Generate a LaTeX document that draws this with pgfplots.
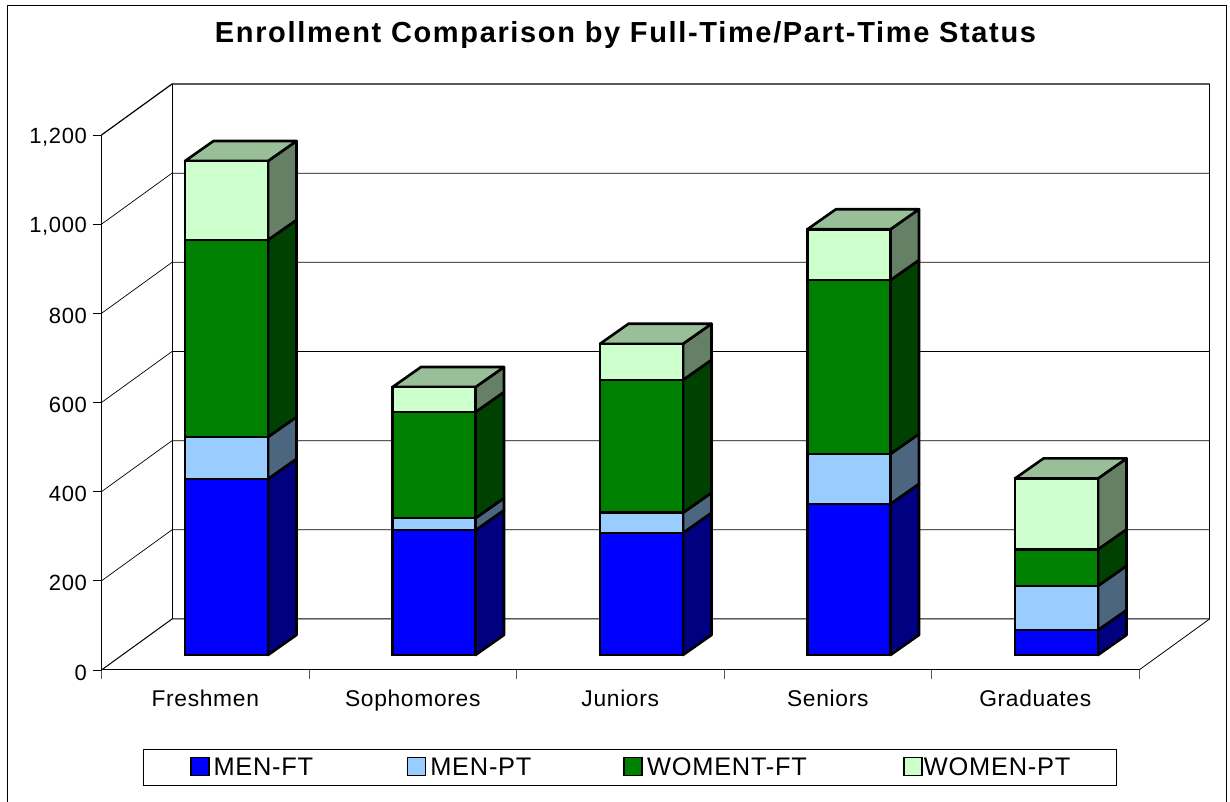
\documentclass[border=0pt]{standalone}
\usepackage{fontspec}
\setmainfont[LetterSpace=3]{Liberation Sans}
\newfontfamily\titlefont[LetterSpace=5.7]{Liberation Sans}
\usepackage{pgfplots}
\pgfplotsset{compat=1.18}
\definecolor{mfT}{HTML}{0000FF}\definecolor{mfS}{HTML}{000080}
\definecolor{mpT}{HTML}{99CCFF}\definecolor{mpS}{HTML}{4D6680}
\definecolor{wfT}{HTML}{008000}\definecolor{wfS}{HTML}{004000}
\definecolor{wpT}{HTML}{CCFFCC}\definecolor{wpS}{HTML}{668066}\definecolor{wpU}{HTML}{99BF99}
% 1 px of the reference = 1 pt here
\pgfplotsset{
  base axis/.style={
    scale only axis, width=1108pt, height=585.5pt,
    anchor=south west, at={(101.5pt,132pt)}, clip=false,
  },
  bars axis/.style={
    base axis, hide axis,
    xmin=-0.6024, xmax=4.7374, ymin=-33.65, ymax=1279.65,
  },
}
% side face and lid of a stacked column, in value units
\newcommand{\sideface}[5]{%
  \pgfmathsetmacro{\xa}{#1+0.2}\pgfmathsetmacro{\xb}{#1+0.2+0.1373}%
  \pgfmathsetmacro{\ya}{#2}\pgfmathsetmacro{\yb}{#3}%
  \pgfmathsetmacro{\yc}{#2+44.9}\pgfmathsetmacro{\yd}{#3+44.9}%
  \addplot[fill=#4,draw=black,line width=2.6pt,line join=round,forget plot]
    coordinates {(\xa,\ya) (\xa,\yb) (\xb,\yd) (\xb,\yc)} -- cycle;%
}
\newcommand{\lidface}[3]{%
  \pgfmathsetmacro{\xa}{#1-0.2}\pgfmathsetmacro{\xb}{#1+0.2}%
  \pgfmathsetmacro{\xc}{#1-0.2+0.1373}\pgfmathsetmacro{\xd}{#1+0.2+0.1373}%
  \pgfmathsetmacro{\ya}{#2}\pgfmathsetmacro{\yb}{#2+44.9}%
  \addplot[fill=#3,draw=black,line width=2.6pt,line join=round,forget plot]
    coordinates {(\xa,\ya) (\xc,\yb) (\xd,\yb) (\xb,\ya)} -- cycle;%
}
\newcommand{\stacksides}[5]{%
  \pgfmathsetmacro{\ca}{#2}\pgfmathsetmacro{\cb}{#2+#3}%
  \pgfmathsetmacro{\cc}{#2+#3+#4}\pgfmathsetmacro{\cd}{#2+#3+#4+#5}%
  \edef\lista{\ca}\edef\listb{\cb}\edef\listc{\cc}\edef\listd{\cd}%
  \sideface{#1}{0}{\lista}{mfS}{}%
  \sideface{#1}{\lista}{\listb}{mpS}{}%
  \sideface{#1}{\listb}{\listc}{wfS}{}%
  \sideface{#1}{\listc}{\listd}{wpS}{}%
  \lidface{#1}{\listd}{wpU}%
}
\pgfplotstableread{
cat menft menpt womft wompt
0   395   94    442   177
1   280   27    238   56
2   274   45    298   81
3   339   112   390   114
4   56    99    82    159
}\enroll
\begin{document}
\begin{tikzpicture}[x=1pt,y=1pt]
\path[use as bounding box] (0,0) rectangle (1230,802);
\draw[line width=1pt] (7.5,0) -- (7.5,796) -- (1226,796) -- (1226,0);
% walls, floor, ticks
\begin{axis}[base axis,
  xmin=0, xmax=5.3398, ymin=0, ymax=1313.3,
  axis line style={draw=none},
  ytick={0,200,400,600,800,1000,1200},
  xtick={0.5,1.5,2.5,3.5,4.5},
  xticklabels={Freshmen,Sophomores,Juniors,Seniors,Graduates},
  minor xtick={0,1,2,3,4,5},
  xtick pos=bottom, ytick pos=left,
  tick align=outside,
  major tick length=9pt, minor tick length=9pt,
  every major x tick/.append style={draw=none},
  every minor x tick/.append style={gray!70!black,line width=1pt},
  every major y tick/.append style={black,line width=0.8pt},
  /pgf/number format/assume math mode=true,
  /pgf/number format/1000 sep={,},
  yticklabel style={font=\fontsize{22}{26}\selectfont,xshift=-2pt,yshift=-2.5pt},
  xticklabel style={font=\fontsize{22.8}{26}\selectfont,yshift=-7pt},
  title={\fontsize{29}{34}\titlefont\bfseries Enrollment Comparison by Full-Time/Part-Time Status},
  title style={at={(axis description cs:0.4729,1.0743)},anchor=center},
]
\pgfplotsinvokeforeach{200,400,600,800,1000}{
  \addplot[black,line width=0.7pt] coordinates {(0,#1) (0.3398,#1+114.4) (5.3398,#1+114.4)};
}
\addplot[black,line width=1.2pt] coordinates {(0,1200) (0.3398,1314.4) (5.3398,1314.4)};
\addplot[black,line width=1pt] coordinates {(0,0) (0.3398,114.4) (5.3398,114.4)};
\addplot[black,line width=1pt] coordinates {(0,1200) (0,0) (5,0)};
\addplot[black,line width=0.8pt] coordinates {(5,0) (5.3398,114.4) (5.3398,1314.4)};
\addplot[black,line width=1pt] coordinates {(0.3398,114.4) (0.3398,1314.4)};
\end{axis}
% column sides and lids
\begin{axis}[bars axis]
\stacksides{0}{395}{94}{442}{177}
\stacksides{1}{280}{27}{238}{56}
\stacksides{2}{274}{45}{298}{81}
\stacksides{3}{339}{112}{390}{114}
\stacksides{4}{56}{99}{82}{159}
\end{axis}
% column fronts and legend
\begin{axis}[bars axis,
  ybar stacked, bar width=0.4,
  legend columns=4,
  legend image code/.code={\draw[#1,draw=black,line width=1.8pt] (0pt,-8pt) rectangle (18pt,10pt);},
  legend style={
    at={(axis description cs:0.4768,-0.1665)},anchor=center,
    draw=black,line width=0.8pt,
    font=\fontsize{25.4}{28}\selectfont,
    inner xsep=46.5pt,inner ysep=6pt,
    /tikz/every even column/.append style={column sep=0pt},
    /tikz/every odd column/.append style={column sep=2pt},
    legend cell align=left,
  },
]
\addplot[fill=mfT,draw=black,line width=2.6pt] table[x=cat,y=menft] {\enroll};
\addplot[fill=mpT,draw=black,line width=2.6pt] table[x=cat,y=menpt] {\enroll};
\addplot[fill=wfT,draw=black,line width=2.6pt] table[x=cat,y=womft] {\enroll};
\addplot[fill=wpT,draw=black,line width=2.6pt] table[x=cat,y=wompt] {\enroll};
\legend{\makebox[191pt][l]{MEN-FT},\makebox[191pt][l]{MEN-PT},\makebox[254pt][l]{WOMENT-FT},\makebox[141pt][l]{\hspace{-3pt}WOMEN-PT}}
\end{axis}
\end{tikzpicture}
\end{document}
